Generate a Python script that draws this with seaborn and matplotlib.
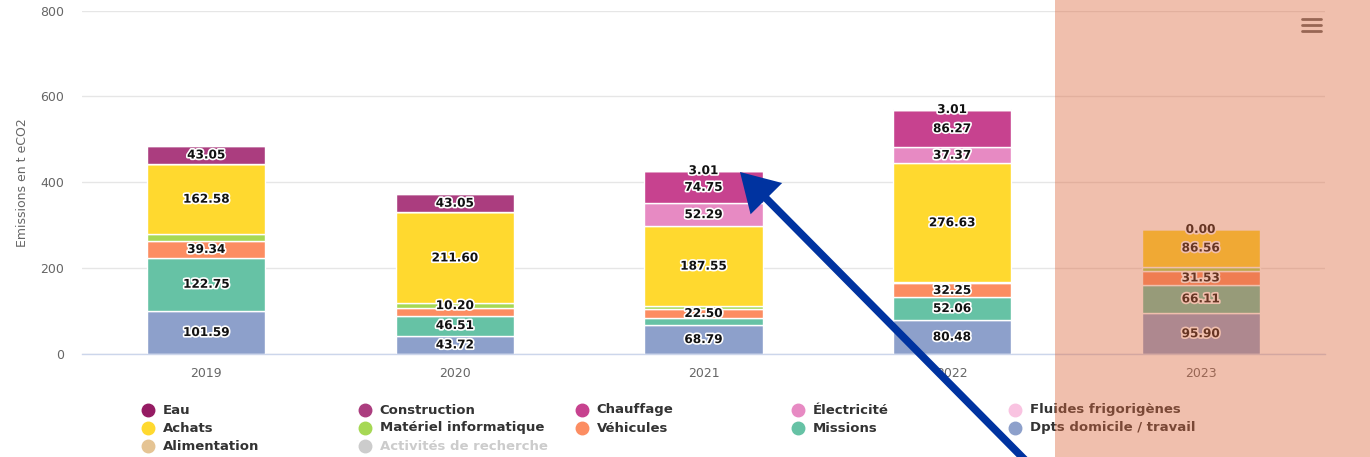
import matplotlib.pyplot as plt
import matplotlib.patheffects as pe
import numpy as np
import pandas as pd
import seaborn as sns
from matplotlib.lines import Line2D
from matplotlib.patches import Rectangle, FancyArrowPatch

# --- data (t eCO2 par poste et par année) ---
years = [2019, 2020, 2021, 2022, 2023]
nan = np.nan
eau = [nan, nan, 3.01, 3.01, 0.00]
construction = [43.05, 43.05, nan, nan, nan]
chauffage = [nan, nan, 74.75, 86.27, nan]
electricite = [nan, nan, 52.29, 37.37, nan]
fluides = [nan, nan, nan, nan, nan]
achats = [162.58, 211.60, 187.55, 276.63, 86.56]
materiel = [16.0, 10.20, 5.0, 3.0, 10.5]
vehicules = [39.34, 18.0, 22.50, 32.25, 31.53]
missions = [122.75, 46.51, 15.0, 52.06, 66.11]
dpts = [101.59, 43.72, 68.79, 80.48, 95.90]
alimentation = [nan, nan, nan, nan, nan]
recherche = [nan, nan, nan, nan, nan]

categories = ['Eau', 'Construction', 'Chauffage', 'Électricité', 'Fluides frigorigènes',
              'Achats', 'Matériel informatique', 'Véhicules', 'Missions',
              'Dpts domicile / travail', 'Alimentation', 'Activités de recherche']
series = [eau, construction, chauffage, electricite, fluides, achats, materiel,
          vehicules, missions, dpts, alimentation, recherche]
colors = ['#951b63', '#ab3d7f', '#c7428f', '#e78ac3', '#f9c3e1', '#ffd92f',
          '#a6d854', '#fc8d62', '#66c2a5', '#8da0cb', '#e5c494', '#cccccc']
hidden_series = ['Activités de recherche']
# étiquettes masquées par le chevauchement dans l'original
hidden_labels = [(2019, 'Matériel informatique'), (2020, 'Véhicules'),
                 (2021, 'Missions'), (2021, 'Matériel informatique'),
                 (2022, 'Matériel informatique'), (2023, 'Matériel informatique')]

rows = []
for cat, vals in zip(categories, series):
    for y, v in zip(years, vals):
        if not np.isnan(v):
            rows.append({'year': y, 'category': cat, 'value': v})
df = pd.DataFrame(rows)
present = [c for c in categories if c in set(df['category'])]
palette = dict(zip(categories, colors))

sns.set_style('white')
plt.rcParams['font.family'] = ['DejaVu Sans']

W, H = 1370, 457
fig = plt.figure(figsize=(W / 100, H / 100), dpi=100)
ax = fig.add_axes([82 / W, 102.7 / H, 1243 / W, 343.8 / H])

# barres empilées : le premier niveau de hue se retrouve en haut
sns.histplot(data=df, x='year', weights='value', hue='category', hue_order=present,
             palette=palette, multiple='stack', discrete=True, shrink=0.475,
             edgecolor='white', linewidth=1, alpha=1, legend=False, ax=ax)

# étiquettes de données
stack_order = categories[::-1]
bottom = np.zeros(len(years))
for cat in stack_order:
    vals = np.array(series[categories.index(cat)], dtype=float)
    for i, y in enumerate(years):
        v = vals[i]
        if np.isnan(v) or (y, cat) in hidden_labels:
            continue
        ax.text(y, bottom[i] + v / 2, f'{v:.2f}', ha='center', va='center',
                fontsize=8.7, fontweight='bold', color='#111111', zorder=5,
                path_effects=[pe.withStroke(linewidth=2.4, foreground='white')])
    bottom += np.nan_to_num(vals)

ax.set_xlim(2018.5, 2023.5)
ax.set_ylim(0, 800)
ax.set_xticks(years)
ax.set_xticklabels([str(y) for y in years])
ax.set_yticks([0, 200, 400, 600, 800])
ax.yaxis.grid(True, color='#e6e6e6', linewidth=1)
ax.set_axisbelow(True)
ax.tick_params(axis='both', length=0, colors='#666666', labelsize=9)
ax.tick_params(axis='y', pad=13)
ax.tick_params(axis='x', pad=9)
ax.set_xlabel('')
ax.set_ylabel('Emissions en t eCO2', fontsize=9, color='#666666')
ax.yaxis.set_label_coords(-0.043, 0.5)
for s in ['top', 'right', 'left']:
    ax.spines[s].set_visible(False)
ax.spines['bottom'].set_color('#ccd6eb')
ax.spines['bottom'].set_linewidth(1)

# légende (5 colonnes, remplissage par ligne)
for k, cat in enumerate(categories):
    r, c = divmod(k, 5)
    xm = (148 + c * 216.75) / W
    ym = 1 - (410 + r * 18) / H
    off = cat in hidden_series
    fig.add_artist(Line2D([xm], [ym], marker='o', markersize=9, linestyle='none',
                          color='#cccccc' if off else palette[cat],
                          transform=fig.transFigure))
    fig.text(xm + 15 / W, ym, cat, ha='left', va='center', fontsize=9.5,
             fontweight='bold', color='#cccccc' if off else '#333333')

# icône menu
for yy in [18.5, 24.5, 30.5]:
    fig.add_artist(Line2D([1302 / W, 1321 / W], [1 - yy / H, 1 - yy / H],
                          color='#666666', linewidth=2, solid_capstyle='round',
                          transform=fig.transFigure))

# zone surlignée 2023
fig.add_artist(Rectangle((1055 / W, 0), 1 - 1055 / W, 1, transform=fig.transFigure,
                         facecolor='#dd673c', alpha=0.42, edgecolor='none', zorder=10))

# flèche d'annotation
fig.add_artist(FancyArrowPatch((1030 / W, 1 - 465 / H), (740 / W, 1 - 172 / H),
                               transform=fig.transFigure,
                               arrowstyle='simple,head_length=27,head_width=32,tail_width=5.5',
                               mutation_scale=1, color='#0033a0', lw=0,
                               shrinkA=0, shrinkB=0, zorder=11))

fig.savefig('out.png', dpi=100)
